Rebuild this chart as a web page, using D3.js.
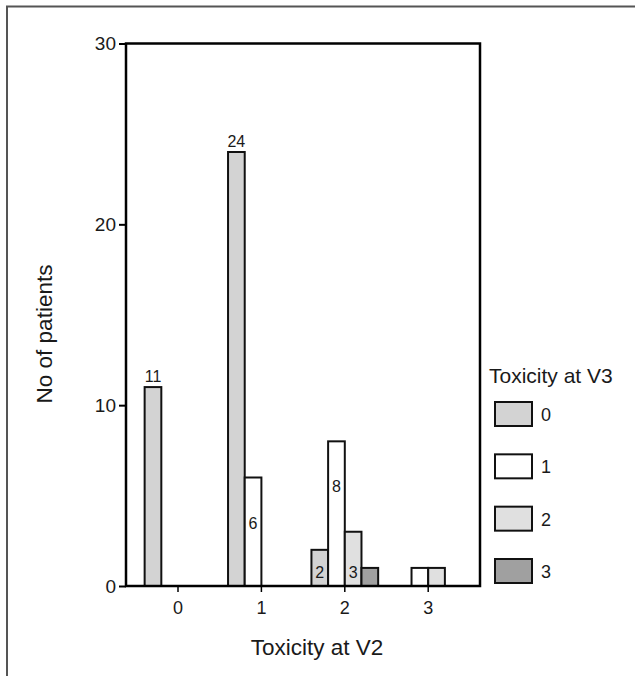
<!DOCTYPE html>
<html>
<head>
<meta charset="utf-8">
<script src="https://cdn.jsdelivr.net/npm/d3@7"></script>
<style>
	body { margin: 0; background: #fff; }
	text { font-family: "Liberation Sans", Arial, sans-serif; fill: #1a1a1a; }
</style>
</head>
<body>
<div id="chart-area"></div>
<script>
// Toxicity at V2 on the x axis, one bar per Toxicity at V3 level
var toxV2 = ["0", "1", "2", "3"];
var toxV3 = ["0", "1", "2", "3"];

var v3Level0 = [11, 24, 2, 0];
var v3Level1 = [0, 6, 8, 1];
var v3Level2 = [0, 0, 3, 1];
var v3Level3 = [0, 0, 1, 0];

var yTicks = [0, 10, 20, 30];

var series = [v3Level0, v3Level1, v3Level2, v3Level3];
var fills = ["#d3d3d3", "#ffffff", "#e0e0e0", "#a0a0a0"];

var width = 635;
var height = 676;

var svg = d3.select("#chart-area")
	.append("svg")
	.attr("width", width)
	.attr("height", height);

// outer frame (cut off on the right and bottom)
svg.append("path")
	.attr("d", "M7,680 V6.5 H640")
	.attr("fill", "none")
	.attr("stroke", "#555")
	.attr("stroke-width", 2);

var plot = { left: 126, right: 480, top: 43.5, bottom: 586 };

var x = d3.scaleBand()
	.domain(toxV2)
	.range([136.3, 469.9])
	.paddingInner(0.2)
	.paddingOuter(0.1);

var xSub = d3.scaleBand()
	.domain(toxV3)
	.range([0, x.bandwidth()]);

var y = d3.scaleLinear()
	.domain([0, 30])
	.range([plot.bottom, plot.top]);

var color = d3.scaleOrdinal()
	.domain(toxV3)
	.range(fills);

// flatten into bar records
var bars = [];
toxV2.forEach(function (g, i) {
	toxV3.forEach(function (s, j) {
		bars.push({ group: g, sub: s, value: series[j][i] });
	});
});

var g = svg.append("g");

g.selectAll("rect.bar")
	.data(bars.filter(d => d.value > 0))
	.enter()
	.append("rect")
	.attr("class", "bar")
	.attr("x", d => x(d.group) + xSub(d.sub))
	.attr("y", d => y(d.value))
	.attr("width", xSub.bandwidth())
	.attr("height", d => y(0) - y(d.value))
	.attr("fill", d => color(d.sub))
	.attr("stroke", "#111")
	.attr("stroke-width", 2);

// value labels
g.selectAll("text.val")
	.data(bars.filter(d => d.value >= 2))
	.enter()
	.append("text")
	.attr("class", "val")
	.attr("x", d => x(d.group) + xSub(d.sub) + xSub.bandwidth() / 2)
	.attr("y", d => d.value > 10 ? y(d.value) - 5 : Math.min(y(d.value) + 51, y(0) - 8))
	.attr("text-anchor", "middle")
	.attr("font-size", "16px")
	.text(d => d.value);

// plot box
g.append("rect")
	.attr("x", plot.left)
	.attr("y", plot.top)
	.attr("width", plot.right - plot.left)
	.attr("height", plot.bottom - plot.top)
	.attr("fill", "none")
	.attr("stroke", "#000")
	.attr("stroke-width", 2.5);

// Y axis
var yAxisCall = d3.axisLeft(y)
	.tickValues(yTicks)
	.tickSize(7)
	.tickSizeOuter(0)
	.tickPadding(3);

var yAxisGroup = svg.append("g")
	.attr("transform", "translate(" + plot.left + ",0)")
	.call(yAxisCall);
yAxisGroup.select(".domain").remove();
yAxisGroup.selectAll("line").attr("stroke", "#000").attr("stroke-width", 2);
yAxisGroup.selectAll("text")
	.attr("font-size", "19px")
	.attr("fill", "#1a1a1a");

// X axis
var xAxisCall = d3.axisBottom(x)
	.tickSize(6)
	.tickSizeOuter(0)
	.tickPadding(9);

var xAxisGroup = svg.append("g")
	.attr("transform", "translate(0," + plot.bottom + ")")
	.call(xAxisCall);
xAxisGroup.select(".domain").remove();
xAxisGroup.selectAll("line").attr("stroke", "#000").attr("stroke-width", 1.5);
xAxisGroup.selectAll("text")
	.attr("font-size", "18px")
	.attr("fill", "#1a1a1a");

// axis titles
svg.append("text")
	.attr("x", 317)
	.attr("y", 655)
	.attr("font-size", "22.5px")
	.attr("text-anchor", "middle")
	.text("Toxicity at V2");

svg.append("text")
	.attr("x", -334)
	.attr("y", 52)
	.attr("font-size", "22.5px")
	.attr("text-anchor", "middle")
	.attr("transform", "rotate(-90)")
	.text("No of patients");

// legend
var legend = svg.append("g")
	.attr("transform", "translate(489,0)");

legend.append("text")
	.attr("x", 0)
	.attr("y", 383)
	.attr("font-size", "21px")
	.text("Toxicity at V3");

var legendY = d3.scalePoint()
	.domain(toxV3)
	.range([402, 559]);

var items = legend.selectAll("g.item")
	.data(toxV3)
	.enter()
	.append("g")
	.attr("class", "item")
	.attr("transform", d => "translate(6," + legendY(d) + ")");

items.append("rect")
	.attr("width", 37)
	.attr("height", 24)
	.attr("fill", d => color(d))
	.attr("stroke", "#111")
	.attr("stroke-width", 2);

items.append("text")
	.attr("x", 46)
	.attr("y", 19)
	.attr("font-size", "18px")
	.text(d => d);
</script>
</body>
</html>
